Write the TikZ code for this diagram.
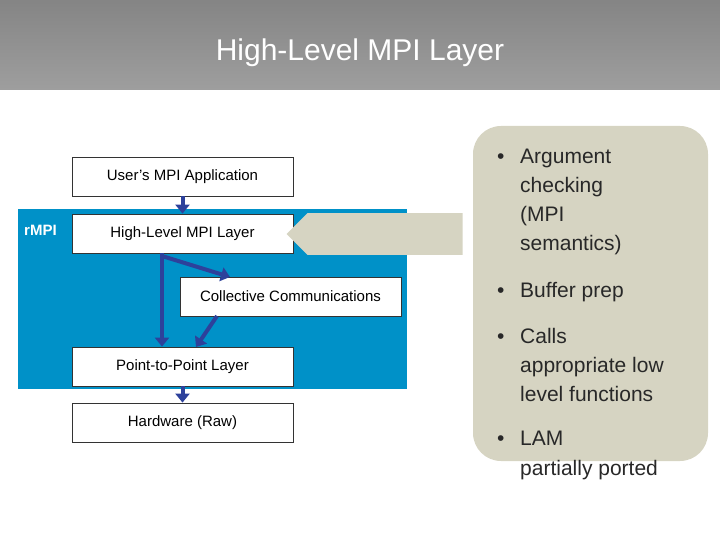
\documentclass[tikz,border=0pt]{standalone}
\usepackage{fontspec}
\setmainfont{Liberation Sans}
\usetikzlibrary{shapes.arrows,arrows.meta}
\definecolor{rblue}{RGB}{0,145,200}
\definecolor{darr}{RGB}{45,65,155}
\definecolor{callout}{RGB}{214,212,194}
\definecolor{txt}{RGB}{40,40,40}
\begin{document}
\begin{tikzpicture}[x=1pt,y=-1pt,
  box/.style={draw=black!80,line width=0.8pt,fill=white,minimum width=221pt,minimum height=39pt,inner sep=0pt,font=\fontsize{15}{17}\selectfont},
  bl/.style={darr,line width=4pt,-{Triangle[length=9pt,width=14pt]}},
  btxt/.style={anchor=base west,inner sep=0pt,text=txt,font=\fontsize{21}{25}\selectfont}]
\useasboundingbox (0,0) rectangle (720,540);
\shade[top color=black!48,bottom color=black!38] (0,0) rectangle (720,90);
\node[text=white,font=\fontsize{30}{34}\selectfont] (title) at (360,53) {High-Level MPI Layer};
\fill[rblue] (18,209) rectangle (407,389);
\node[text=white,font=\bfseries\fontsize{15}{17}\selectfont,anchor=west,inner sep=0pt] (rmpi) at (24,230) {rMPI};
\node[box] (user) at (182.5,176.5) {User’s MPI Application};
\node[box] (hl) at (182.5,233.5) {High-Level MPI Layer};
\node[box] (cc) at (290.5,296.5) {Collective Communications};
\node[box] (pp) at (182.5,366.5) {Point-to-Point Layer};
\node[box] (hw) at (182.5,422.5) {Hardware (Raw)};
\draw[bl] (user.south) -- (hl.north);
\draw[bl] (pp.south) -- (hw.north);
\coordinate (br) at (162,256);
\coordinate (ccin) at (230,277);
\coordinate (ccout) at (217,316);
\coordinate (ppin) at (196,347);
\draw[bl] (hl.south -| br) -- (pp.north -| br);
\draw[bl] (br) -- (ccin);
\draw[bl] (ccout) -- (ppin);
\fill[callout,rounded corners=28pt] (473,126) rectangle (708,461);
\node[single arrow,fill=callout,shape border rotate=180,minimum height=176pt,minimum width=42pt,single arrow head extend=0pt,single arrow tip angle=90,inner sep=0pt,single arrow head indent=0pt] (garr) at (385,234) {};
\foreach \y/\t in {156/Argument,185/checking,214/(MPI,243/semantics),289/Buffer prep,335/Calls,364/appropriate low,393/level functions,437/LAM/MPI,467/partially ported}
  \node[btxt] at (520,\y+8) {\t};
\foreach \y in {156,289,335,437}
  \node[btxt] at (497,\y+8) {•};
\end{tikzpicture}
\end{document}
